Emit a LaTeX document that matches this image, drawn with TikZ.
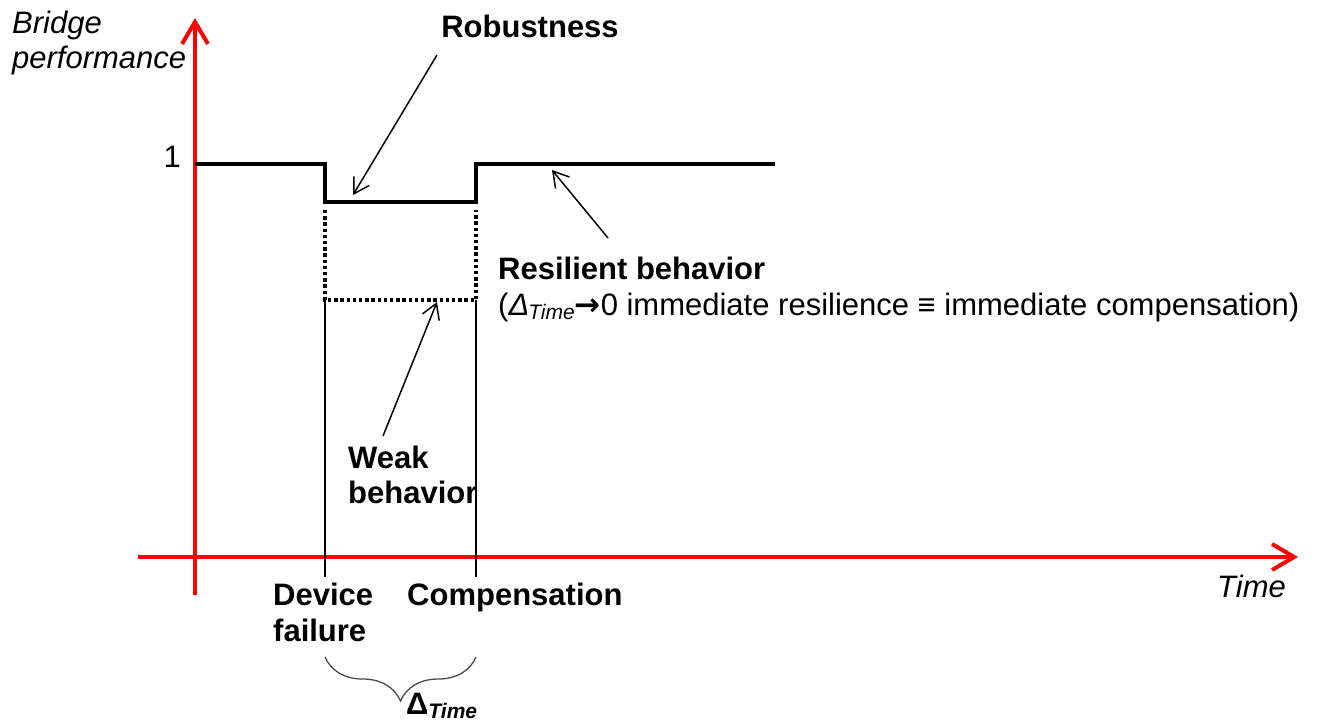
\documentclass[tikz,border=0pt]{standalone}
\usepackage{fontspec}
\setmainfont{Liberation Sans}
\newfontfamily\dvfont{DejaVu Sans}
\usetikzlibrary{arrows.meta,decorations.pathreplacing}
\tikzset{
  axis/.style={draw=red, line width=4pt, -{Straight Barb[length=22pt,width=26pt,line width=4pt]}},
  perf/.style={draw=black, line width=4pt, line join=miter},
  weakline/.style={draw=black, line width=3.6pt, dash pattern=on 3.4pt off 2.8pt},
  guide/.style={draw=black, line width=1.3pt},
  pointer/.style={draw=black, line width=1.5pt, -{Straight Barb[length=15pt,width=18pt,line width=1.5pt]}},
  lbl/.style={inner sep=0pt, font=\fontsize{31}{37}\selectfont},
  blbl/.style={inner sep=0pt, font=\fontsize{31}{37}\selectfont\bfseries},
}
\begin{document}
\begin{tikzpicture}[x=1pt,y=-1pt]
\useasboundingbox (0,0) rectangle (1325,724);
% axes
\coordinate (yb) at (195,595);
\coordinate (yt) at (195,18);
\coordinate (xl) at (138,557);
\coordinate (xr) at (1298,557);
\draw[axis] (yb) -- (yt);
\draw[axis] (xl) -- (xr);
% guides
\coordinate (g1t) at (325,300);
\coordinate (g1b) at (325,577);
\coordinate (g2t) at (476,300);
\coordinate (g2b) at (476,577);
\draw[guide] (g1t) -- (g1b);
\draw[guide] (g2t) -- (g2b);
% weak behaviour dotted
\coordinate (w1) at (325,210);
\coordinate (w2) at (325,300);
\coordinate (w3) at (476,300);
\coordinate (w4) at (476,210);
\draw[weakline] (w1) -- (w2) -- (w3) -- (w4);
% performance line
\coordinate (p0) at (195,164);
\coordinate (p1) at (325,164);
\coordinate (p2) at (325,202);
\coordinate (p3) at (476,202);
\coordinate (p4) at (476,164);
\coordinate (p5) at (775,164);
\draw[perf] (p0) -- (p1) -- (p2) -- (p3) -- (p4) -- (p5);
% labels
\node[lbl, anchor=base west] (ylab) at (12,33) {\itshape Bridge};
\node[lbl, anchor=base west] (ylab2) at (12,68) {\itshape performance};
\node[lbl, anchor=base east] (one) at (181,167) {1};
\node[blbl, anchor=base] (rob) at (530,37) {Robustness};
\node[blbl, anchor=base west] (res) at (498,279) {Resilient behavior};
\node[lbl, anchor=base west] (res2) at (498,315) {(\textit{Δ\kern-1pt\raisebox{-4pt}{\fontsize{21}{21}\selectfont Time}}{\dvfont\bfseries →}0 immediate resilience ≡ immediate compensation)};
\node[blbl, anchor=base west] (weak) at (348,468) {Weak};
\node[blbl, anchor=base west] (weak2) at (348,503) {behavior};
\node[blbl, anchor=base west] (dev) at (273,605) {Device};
\node[blbl, anchor=base west] (dev2) at (273,641) {failure};
\node[blbl, anchor=base west] (comp) at (407,605) {Compensation};
\node[lbl, anchor=base west] (time) at (1217,597) {\itshape Time};
\node[blbl, anchor=base west] (dt) at (406,714) {Δ\raisebox{-4pt}{\fontsize{21}{21}\selectfont\itshape Time}};
% pointers
\coordinate (ra) at (437,55);
\coordinate (rb) at (353,195);
\draw[pointer] (ra) -- (rb);
\coordinate (sa) at (608,238);
\coordinate (sb) at (552,170);
\draw[pointer] (sa) -- (sb);
\coordinate (wa) at (383,436);
\coordinate (wb) at (437,302);
\draw[pointer] (wa) -- (wb);
% brace
\coordinate (bl) at (325,657);
\coordinate (br) at (476,657);
\draw[black!70, line width=1.3pt, decoration={brace, amplitude=44pt, aspect=0.5}, decorate] (br) -- (bl);
\end{tikzpicture}
\end{document}
